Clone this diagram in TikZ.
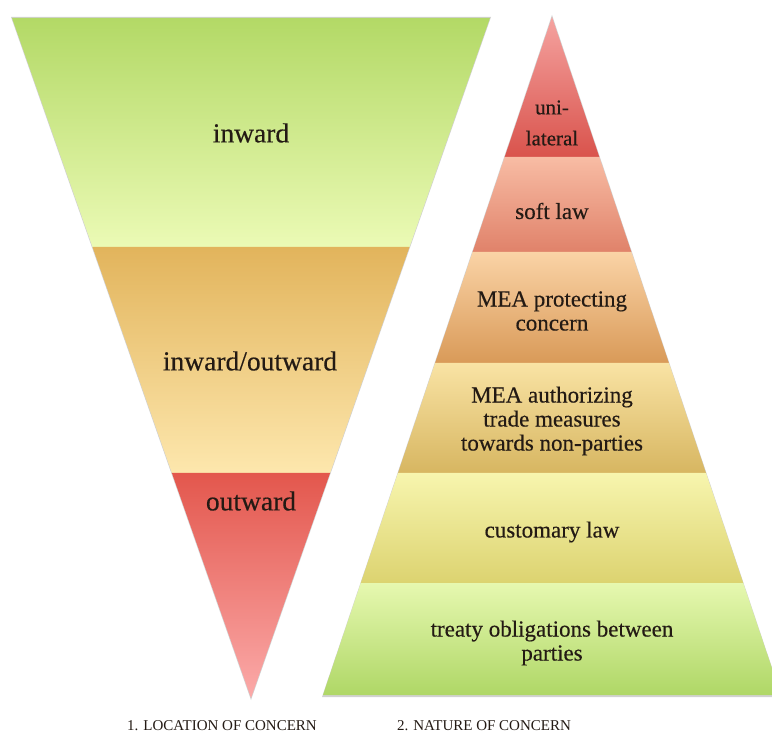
\documentclass[tikz,border=0pt]{standalone}
\usepackage{fontspec}
\setmainfont{Liberation Serif}
\newfontfamily\lblfont{Liberation Serif}[FakeBold=0.35]
\definecolor{txt}{HTML}{231A14}
\definecolor{inT}{HTML}{B3D966}\definecolor{inB}{HTML}{EBFAB5}
\definecolor{ioT}{HTML}{E2B45C}\definecolor{ioB}{HTML}{FDE7AD}
\definecolor{ouT}{HTML}{E3574D}\definecolor{ouB}{HTML}{FBAAA9}
\definecolor{unT}{HTML}{F5A3A0}\definecolor{unB}{HTML}{D9534C}
\definecolor{soT}{HTML}{F8BCA4}\definecolor{soB}{HTML}{E0826A}
\definecolor{mpT}{HTML}{FAD3A6}\definecolor{mpB}{HTML}{D99A58}
\definecolor{maT}{HTML}{F9E3A4}\definecolor{maB}{HTML}{D7B661}
\definecolor{cuT}{HTML}{F7F5AE}\definecolor{cuB}{HTML}{DCD370}
\definecolor{trT}{HTML}{E6F8B0}\definecolor{trB}{HTML}{AFD766}
\begin{document}
\begin{tikzpicture}[x=1pt,y=-1pt,
  shadowfill/.style={fill=black, opacity=0.18},
  lbl/.style={text=txt, align=center, inner sep=0pt, font=\lblfont\fontsize{23}{24}\selectfont},
  biglbl/.style={lbl, font=\lblfont\fontsize{27.5}{30}\selectfont},
  captxt/.style={text=txt, inner sep=0pt, font=\fontsize{15}{17}\selectfont}]
\useasboundingbox (0,0) rectangle (772,735);
\begin{scope}
\clip (0,0) rectangle (772,735);
% shadows
\fill[shadowfill] (11,17) -- (491,17) -- (251,700) -- cycle;
\fill[shadowfill] (552,15) -- (782,697) -- (322,697) -- cycle;
% left inverted triangle
\shade[top color=inT, bottom color=inB] (12,18) -- (490,18) -- (409.5,247) -- (92.5,247) -- cycle;
\shade[top color=ioT, bottom color=ioB] (92.5,247) -- (409.5,247) -- (330.1,473) -- (171.9,473) -- cycle;
\shade[top color=ouT, bottom color=ouB] (171.9,473) -- (330.1,473) -- (251,698) -- cycle;
% right triangle
\shade[top color=unT, bottom color=unB] (552,17) -- (599.3,157) -- (504.7,157) -- cycle;
\shade[top color=soT, bottom color=soB] (504.7,157) -- (599.3,157) -- (631.4,252) -- (472.6,252) -- cycle;
\shade[top color=mpT, bottom color=mpB] (472.6,252) -- (631.4,252) -- (668.9,363) -- (435.1,363) -- cycle;
\shade[top color=maT, bottom color=maB] (435.1,363) -- (668.9,363) -- (706,473) -- (398,473) -- cycle;
\shade[top color=cuT, bottom color=cuB] (398,473) -- (706,473) -- (743.2,583) -- (360.8,583) -- cycle;
\shade[top color=trT, bottom color=trB] (360.8,583) -- (743.2,583) -- (781,695) -- (323,695) -- cycle;
\end{scope}
% labels
\node[biglbl] (inward) at (251,133) {inward};
\node[biglbl] (inout) at (250,361) {inward/outward};
\node[biglbl] (outward) at (251,501) {outward};
\node[lbl, font=\lblfont\fontsize{21}{31}\selectfont] (uni) at (552,123) {uni-\\lateral};
\node[lbl] (soft) at (552,211) {soft law};
\node[lbl] (mep) at (552,311) {MEA protecting\\concern};
\node[lbl] (mea) at (552,421) {MEA authorizing\\trade measures\\towards non-parties};
\node[lbl] (cust) at (552,532) {customary law};
\node[lbl] (treaty) at (552,643) {treaty obligations between\\parties};
\node[captxt] (c1) at (222,726) {1. LOCATION OF CONCERN};
\node[captxt] (c2) at (484,726) {2. NATURE OF CONCERN};
\end{tikzpicture}
\end{document}
